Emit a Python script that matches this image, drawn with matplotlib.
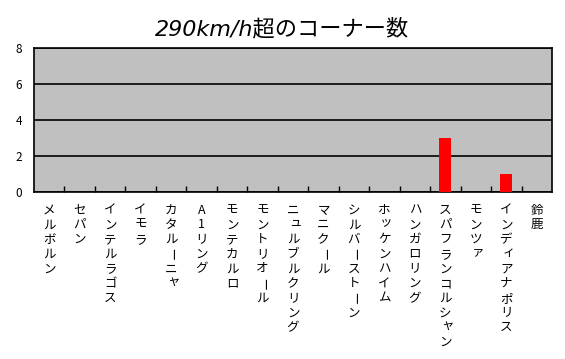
import matplotlib
matplotlib.use("Agg")
import matplotlib.pyplot as plt
from matplotlib.ticker import MultipleLocator, FixedLocator

plt.rcParams['font.family'] = ['Noto Sans CJK JP', 'DejaVu Sans']

circuits = ["メルボルン", "セパン", "インテルラゴス", "イモラ", "カタルーニャ", "A1リング",
            "モンテカルロ", "モントリオール", "ニュルブルクリング", "マニクール",
            "シルバーストーン", "ホッケンハイム", "ハンガロリング", "スパフランコルシャン",
            "モンツァ", "インディアナポリス", "鈴鹿"]
corners = [0, 0, 0, 0, 0, 0, 0, 0, 0, 0, 0, 0, 0, 3, 0, 1, 0]
title = "290km/h超のコーナー数"

fig = plt.figure(figsize=(5.65, 3.59), dpi=100)
ax = fig.add_axes([34/565, 1-192/359, (552-34)/565, (192-48)/359])
ax.set_facecolor('#C0C0C0')
x = list(range(len(circuits)))
ax.bar(x, corners, width=0.4, color='#FF0000', zorder=3)
ax.set_xlim(-0.5, len(circuits)-0.5)
ax.set_ylim(0, 8)
ax.yaxis.set_major_locator(MultipleLocator(2))
ax.grid(axis='y', color='black', linewidth=1.2, zorder=1)
for s in ax.spines.values():
    s.set_linewidth(1.2)
    s.set_color('black')
ax.tick_params(axis='y', length=0, labelsize=8.5, pad=8.5)
ax.xaxis.set_major_locator(FixedLocator([i + 0.5 for i in range(len(circuits)-1)]))
ax.tick_params(axis='x', direction='in', length=4, width=1, labelbottom=False)

small = set("ャュョッァィゥェォ")
step = 10.6
for i, name in enumerate(circuits):
    for j, ch in enumerate(name):
        rot = 0
        dx, dy = 0, 0
        if ch == 'ー':
            rot = 90
            dx, dy = 3.2, 1.0
        elif ch in small:
            dx, dy = 1.5, 1.5
        ax.annotate(ch, xy=(i, 0), xycoords=('data', 'axes fraction'),
                    xytext=(dx, -13 - j*step + dy), textcoords='offset points',
                    ha='center', va='center', fontsize=9, rotation=rot,
                    annotation_clip=False)

fig.text(282/565, 1-29/359, title, ha='center', va='center', fontsize=16,
         style='italic', family=['DejaVu Sans', 'Noto Sans CJK JP'])

fig.savefig('out.png', dpi=100, facecolor='white')
